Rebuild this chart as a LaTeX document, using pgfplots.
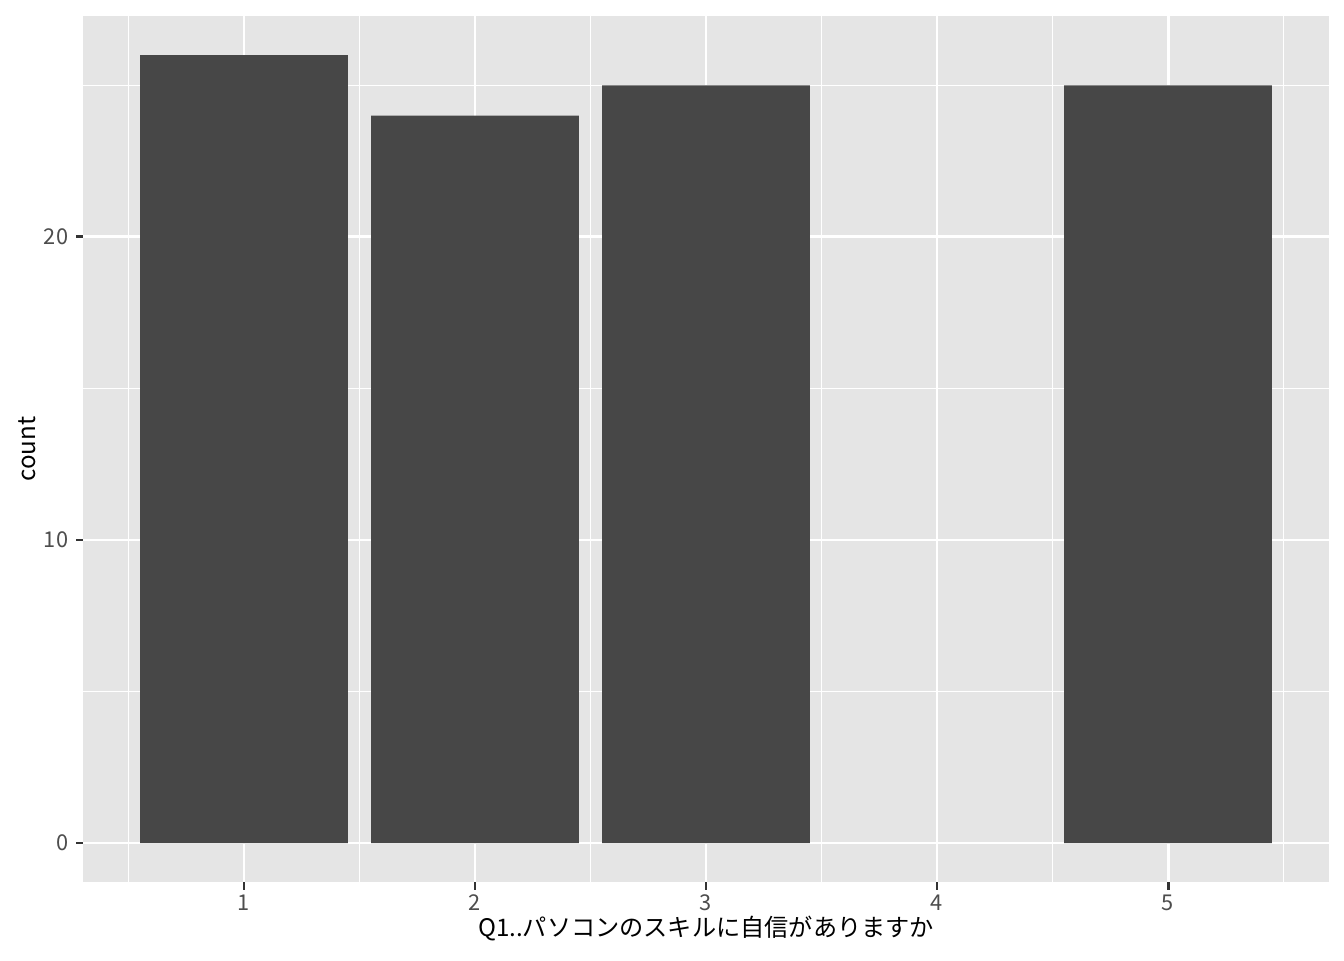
\documentclass[border=0pt]{standalone}
\usepackage{fontspec}
\setmainfont{Noto Sans CJK JP}
\usepackage{pgfplots}
\pgfplotsset{compat=1.18}
\definecolor{panelbg}{HTML}{E5E5E5}
\definecolor{barfill}{HTML}{474747}
\definecolor{ticklab}{HTML}{4D4D4D}
\definecolor{tickcol}{HTML}{333333}
\begin{document}
\begin{tikzpicture}[x=1bp,y=1bp]
\path[fill=white] (0,0) rectangle (504,360);
\begin{axis}[
  at={(31.3bp,29.1bp)}, anchor=south west,
  scale only axis, width=466.9bp, height=325bp,
  xmin=0.305, xmax=5.695, ymin=-1.3, ymax=27.3,
  axis background/.style={fill=panelbg},
  axis line style={draw=none},
  xtick={1,2,3,4,5}, ytick={0,10,20},
  minor xtick={0.5,1.5,2.5,3.5,4.5,5.5},
  minor ytick={5,15,25},
  grid=both,
  major grid style={white, line width=1.1pt},
  minor grid style={white, line width=0.55pt},
  tick align=outside, tick pos=left,
  major tick length=2.75pt, minor tick length=0pt,
  tick style={tickcol, line width=1.1pt},
  ticklabel style={font=\fontsize{8.2}{10}\selectfont, text=ticklab},
  /pgf/number format/assume math mode=true,
  xticklabel style={yshift=1.5pt},
  yticklabel style={xshift=0.5pt},
  xlabel={Q1..パソコンのスキルに自信がありますか},
  ylabel={count},
  label style={font=\fontsize{9.1}{11}\selectfont},
  xlabel style={yshift=5pt},
  ylabel style={yshift=-4pt},
  clip=false,
]
\addplot[ybar, bar width=0.9, bar shift=0pt, fill=barfill, draw=none] coordinates {
  (1,26) (2,24) (3,25) (5,25)
};
\end{axis}
\end{tikzpicture}
\end{document}
